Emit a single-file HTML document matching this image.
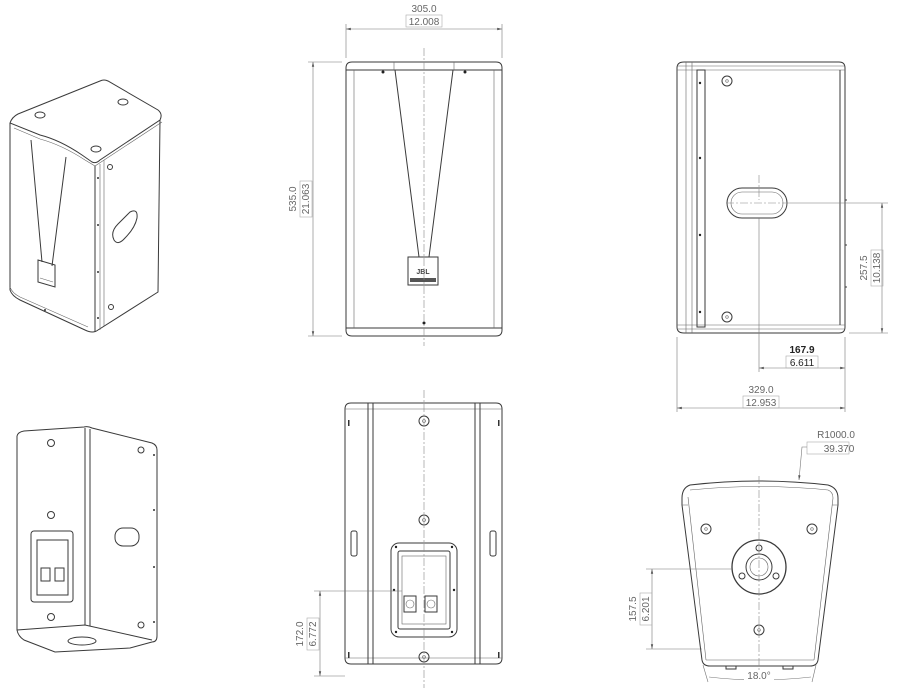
<!DOCTYPE html>
<html><head><meta charset="utf-8">
<style>
html,body{margin:0;padding:0;background:#fff;}
svg{display:block;}
text{font-family:"Liberation Sans",sans-serif;font-size:10px;fill:#666;}
.l{fill:none;stroke:#3a3a3a;stroke-width:1;}
.t{fill:none;stroke:#666;stroke-width:0.6;}
.d{fill:none;stroke:#777;stroke-width:0.6;}
.c{fill:none;stroke:#888;stroke-width:0.6;stroke-dasharray:8 2 2 2;}
.b{fill:none;stroke:#aaa;stroke-width:0.6;}
</style></head><body>
<svg width="900" height="688" viewBox="0 0 900 688" xmlns="http://www.w3.org/2000/svg">
<defs>
<marker id="a" markerWidth="8" markerHeight="6" refX="8" refY="3" orient="auto-start-reverse"><path d="M0,1 L8,3 L0,5 z" fill="#555"/></marker>
</defs>

<!-- ===== Top-left isometric ===== -->
<path class="l" d="M10,123 Q12,117 18,114 L100,81 Q104,79 108,81 L158,110 Q163,114 160,120 L100,160 Q96,164 92,162 L82,155 Q60,140 40,135 Z"/>
<path class="t" d="M14,128 L40,139 Q62,145 85,160 L95,166 L162,122"/>
<path class="l" d="M10,123 L10,290 Q12,296 20,300 L85,330 Q93,334 98,330 L158,292 L160,120"/>
<path class="l" d="M95,166 L95,332"/>
<path class="t" d="M100,164 L100,330 M104,160 L104,326"/>
<path class="t" d="M10,287 Q12,293 20,297 L88,327"/>
<path class="l" d="M31,140 L42,262 M66,157 L52,266"/>
<path class="l" d="M38,260 L55,265 L55,287 L38,282 Z"/>
<path class="t" d="M40,278 L53,282"/>
<path class="l" d="M114,240 Q110,232 118,224 L130,212 Q138,208 137,218 Q135,228 125,238 Q118,246 114,240 Z"/>
<ellipse cx="40" cy="115" rx="5" ry="3" class="l"/>
<ellipse cx="123" cy="102" rx="5" ry="3" class="l"/>
<ellipse cx="96" cy="149" rx="5" ry="3" class="l"/>
<circle cx="110" cy="167" r="2.5" class="l"/><circle cx="111" cy="307" r="2.5" class="l"/>
<g fill="#333"><circle cx="98" cy="178" r="1"/><circle cx="98" cy="225" r="1"/><circle cx="98" cy="272" r="1"/><circle cx="98" cy="318" r="1"/><circle cx="45" cy="310" r="1"/></g>

<!-- ===== Bottom-left isometric ===== -->
<path class="l" d="M17,436 Q18,432 24,431 L84,427 Q88,426 92,428 L152,443 Q157,445 157,450 L157,636 Q157,642 152,642"/>
<path class="l" d="M17,436 L17,630 Q18,636 24,640 L55,652 L130,648 L152,642"/>
<path class="l" d="M17,630 L85,625 L152,640"/>
<path class="l" d="M85,428 L85,625 M90,429 L90,626"/>
<rect x="31" y="531" width="42" height="71" rx="3" class="l"/>
<rect x="37" y="540" width="31" height="55" class="l"/>
<rect x="41" y="568" width="9" height="13" class="l"/><rect x="55" y="568" width="9" height="13" class="l"/>
<circle cx="51" cy="443" r="3.5" class="l"/><circle cx="51" cy="515" r="3.5" class="l"/><circle cx="51" cy="617" r="3.5" class="l"/>
<circle cx="141" cy="450" r="3" class="l"/><circle cx="141" cy="625" r="3" class="l"/>
<rect x="115" y="528" width="24" height="18" rx="8" class="l"/>
<ellipse cx="82" cy="641" rx="14" ry="4" class="l"/>
<g fill="#333"><circle cx="154" cy="455" r="1"/><circle cx="154" cy="510" r="1"/><circle cx="154" cy="567" r="1"/><circle cx="154" cy="622" r="1"/></g>

<!-- ===== Front view ===== -->
<path class="l" d="M352,62 L496,62 Q502,62 502,68 L502,330 Q502,336 496,336 L352,336 Q346,336 346,330 L346,68 Q346,62 352,62 Z"/>
<path class="l" d="M346,70 L502,70 M346,328 L502,328"/>
<path class="t" d="M354,70 L354,328 M494,70 L494,328"/>
<path class="t" d="M394,62 L394,70 M454,62 L454,70"/>
<path class="l" d="M395,70 L419,257 M453,70 L429,257"/>
<rect x="408" y="257" width="30" height="28" class="l"/>
<text x="423" y="274" text-anchor="middle" style="font-size:7px;font-weight:bold;fill:#444">JBL</text>
<rect x="410" y="278" width="26" height="4" fill="#555"/>
<g fill="#222"><circle cx="383" cy="72" r="1.5"/><circle cx="465" cy="72" r="1.5"/><circle cx="424" cy="323" r="1.5"/></g>
<path class="c" d="M424,48 L424,346"/>
<path class="d" d="M346,58 L346,24 M502,58 L502,24" />
<path class="d" d="M346,29 L502,29" marker-start="url(#a)" marker-end="url(#a)"/>
<text x="424" y="12" text-anchor="middle">305.0</text>
<rect x="406" y="15" width="36" height="12" class="b"/><text x="424" y="25" text-anchor="middle">12.008</text>
<path class="d" d="M342,62 L308,62 M342,336 L308,336"/>
<path class="d" d="M313,62 L313,336" marker-start="url(#a)" marker-end="url(#a)"/>
<text transform="translate(296,199) rotate(-90)" text-anchor="middle">535.0</text>
<rect x="300" y="181" width="12" height="36" class="b"/>
<text transform="translate(309,199) rotate(-90)" text-anchor="middle">21.063</text>

<!-- ===== Side view ===== -->
<path class="l" d="M684,62 L839,62 Q845,62 845,68 L845,327 Q845,333 839,333 L684,333 Q677,333 677,327 L677,68 Q677,62 684,62 Z"/>
<path class="t" d="M677,66 L845,66 M677,70 L845,70 M677,325 L845,325 M677,329 L845,329"/>
<path class="t" d="M686,62 L686,333 M692,62 L692,333"/>
<path class="l" d="M697,70 L705,70 L705,327 L697,327 Z"/>
<path class="l" d="M840,70 L840,325"/>
<rect x="727" y="188" width="60" height="30" rx="15" class="l"/>
<rect x="731" y="192" width="52" height="22" rx="11" class="t"/>
<circle cx="727" cy="81" r="5" class="l"/><circle cx="727" cy="81" r="1.3" class="t"/>
<circle cx="727" cy="317" r="5" class="l"/><circle cx="727" cy="317" r="1.3" class="t"/>
<g fill="#222"><circle cx="700" cy="83" r="1.2"/><circle cx="700" cy="158" r="1.2"/><circle cx="700" cy="235" r="1.2"/><circle cx="700" cy="312" r="1.2"/></g>
<path class="l" d="M845,200 L847,200 M845,245 L847,245 M845,287 L847,287"/>
<path class="c" d="M726,203 L790,203 M759,175 L759,200"/>
<path class="d" d="M790,203 L888,203 M849,333 L888,333"/>
<path class="d" d="M882,203 L882,333" marker-start="url(#a)" marker-end="url(#a)"/>
<text transform="translate(867,268) rotate(-90)" text-anchor="middle">257.5</text>
<rect x="871" y="250" width="12" height="36" class="b"/>
<text transform="translate(880,268) rotate(-90)" text-anchor="middle">10.138</text>
<path class="d" d="M759,218 L759,372 M845,337 L845,412 M677,337 L677,412"/>
<path class="d" d="M759,368 L845,368" marker-start="url(#a)" marker-end="url(#a)"/>
<text x="802" y="353" text-anchor="middle" style="fill:#222;font-weight:bold">167.9</text>
<rect x="786" y="356" width="32" height="12" class="b"/><text x="802" y="366" text-anchor="middle" style="fill:#222">6.611</text>
<path class="d" d="M677,408 L845,408" marker-start="url(#a)" marker-end="url(#a)"/>
<text x="761" y="393" text-anchor="middle">329.0</text>
<rect x="743" y="396" width="36" height="12" class="b"/><text x="761" y="406" text-anchor="middle">12.953</text>

<!-- ===== Back view ===== -->
<path class="l" d="M351,403 L496,403 Q502,403 502,409 L502,658 Q502,664 496,664 L351,664 Q345,664 345,658 L345,409 Q345,403 351,403 Z"/>
<path class="t" d="M345,409 L502,409 M345,658 L502,658"/>
<path class="l" d="M368,403 L368,664 M373,403 L373,664 M475,403 L475,664 M480,403 L480,664"/>
<rect x="351" y="531" width="6" height="25" rx="2" class="l"/><rect x="490" y="531" width="6" height="25" rx="2" class="l"/>
<g fill="#333"><rect x="348" y="420" width="1.5" height="6"/><rect x="498" y="420" width="1.5" height="6"/><rect x="348" y="652" width="1.5" height="6"/><rect x="498" y="652" width="1.5" height="6"/></g>
<circle cx="424" cy="421" r="5" class="l"/><circle cx="424" cy="421" r="1.5" class="t"/>
<circle cx="424" cy="520" r="5" class="l"/><circle cx="424" cy="520" r="1.5" class="t"/>
<circle cx="424" cy="657" r="5" class="l"/><circle cx="424" cy="657" r="1.5" class="t"/>
<rect x="391" y="543" width="66" height="94" rx="8" class="l"/>
<rect x="398" y="551" width="52" height="78" rx="2" class="l"/>
<rect x="402" y="556" width="44" height="68" class="t"/>
<rect x="404" y="596" width="12" height="16" class="l"/><circle cx="410" cy="604" r="4" class="t"/>
<rect x="425" y="596" width="12" height="16" class="l"/><circle cx="431" cy="604" r="4" class="t"/>
<g fill="#222"><circle cx="396" cy="547" r="1.2"/><circle cx="452" cy="547" r="1.2"/><circle cx="394" cy="590" r="1.2"/><circle cx="454" cy="590" r="1.2"/><circle cx="396" cy="632" r="1.2"/><circle cx="452" cy="632" r="1.2"/></g>
<path class="c" d="M424,390 L424,688"/>
<path class="d" d="M314,591 L402,591 M314,676 L345,676"/>
<path class="d" d="M320,591 L320,676" marker-start="url(#a)" marker-end="url(#a)"/>
<text transform="translate(303,634) rotate(-90)" text-anchor="middle">172.0</text>
<rect x="307" y="618" width="12" height="32" class="b"/>
<text transform="translate(316,634) rotate(-90)" text-anchor="middle">6.772</text>

<!-- ===== Bottom view ===== -->
<path class="l" d="M690,485 Q759,477 828,485 Q838,488 838,498 L838,505 L818,660 Q817,666 810,666 L710,666 Q703,666 702,660 L682,505 L682,498 Q682,488 690,485 Z"/>
<path class="t" d="M690,490 Q759,483 828,490 Q833,492 833,498 L814,660 M688,497 L706,660 M706,660 L814,660"/>
<path class="t" d="M682,505 L688,505 M838,505 L832,505"/>
<circle cx="706" cy="529" r="5" class="l"/><circle cx="706" cy="529" r="1.3" class="t"/>
<circle cx="812" cy="529" r="5" class="l"/><circle cx="812" cy="529" r="1.3" class="t"/>
<circle cx="759" cy="630" r="5" class="l"/><circle cx="759" cy="630" r="1.3" class="t"/>
<circle cx="759" cy="567" r="27" class="l" style="stroke-width:1.3"/>
<circle cx="759" cy="567" r="13" class="l"/><circle cx="759" cy="567" r="9" class="t"/>
<circle cx="759" cy="548" r="3" class="l"/><circle cx="742" cy="576" r="3" class="l"/><circle cx="776" cy="576" r="3" class="l"/>
<path class="c" d="M759,476 L759,676"/>
<rect x="726" y="666" width="10" height="3" class="l"/><rect x="783" y="666" width="10" height="3" class="l"/>
<path class="d" d="M646,569 L732,569 M646,649 L702,649"/>
<path class="d" d="M652,569 L652,649" marker-start="url(#a)" marker-end="url(#a)"/>
<text transform="translate(636,609) rotate(-90)" text-anchor="middle">157.5</text>
<rect x="640" y="593" width="12" height="32" class="b"/>
<text transform="translate(649,609) rotate(-90)" text-anchor="middle">6.201</text>
<path class="d" d="M703,665 L708,682 M816,665 L812,682"/>
<path class="d" d="M709,677 Q759,683 811,677"/>
<rect x="744" y="670" width="30" height="12" fill="#fff"/>
<text x="759" y="679" text-anchor="middle">18.0°</text>
<text x="836" y="438" text-anchor="middle">R1000.0</text>
<rect x="807" y="442" width="42" height="12" class="b"/><text x="839" y="452" text-anchor="middle">39.370</text>
<path class="d" d="M807,447 L802,447 L799,480" marker-end="url(#a)"/>
</svg>
</body></html>
